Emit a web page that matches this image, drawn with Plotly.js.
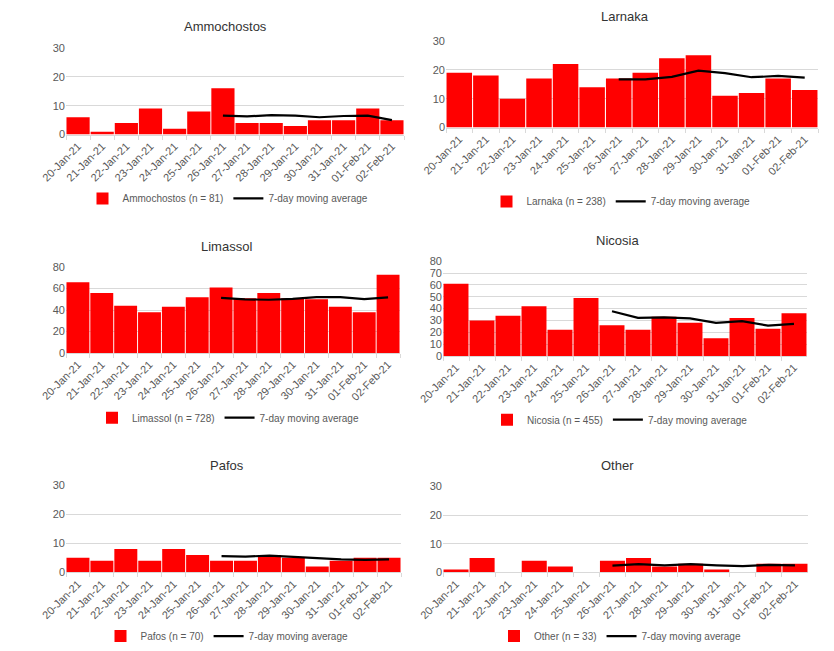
<!DOCTYPE html>
<html>
<head>
<meta charset="utf-8">
<script src="https://cdn.plot.ly/plotly-3.0.1.min.js"></script>
<style>html,body{margin:0;padding:0;background:#fff;}#chart{width:834px;height:651px;}</style>
</head>
<body>
<div id="chart"></div>
<script>
const dates = ["20-Jan-21","21-Jan-21","22-Jan-21","23-Jan-21","24-Jan-21","25-Jan-21","26-Jan-21","27-Jan-21","28-Jan-21","29-Jan-21","30-Jan-21","31-Jan-21","01-Feb-21","02-Feb-21"];
const maDates = ["26-Jan-21","27-Jan-21","28-Jan-21","29-Jan-21","30-Jan-21","31-Jan-21","01-Feb-21","02-Feb-21"];

const ammochostos = [6,1,4,9,2,8,16,4,4,3,5,5,9,5];
const ammochostosMA = [6.57,6.29,6.71,6.57,6.0,6.43,6.57,5.0];
const larnaka = [19,18,10,17,22,14,17,19,24,25,11,12,17,13];
const larnakaMA = [16.71,16.71,17.57,19.71,18.86,17.43,17.86,17.29];
const limassol = [66,56,44,38,43,52,61,51,56,51,50,43,38,73];
const limassolMA = [51.4,50.0,49.6,50.4,52.1,52.1,50.1,51.9];
const nicosia = [61,30,34,42,22,49,26,22,33,28,15,32,23,36];
const nicosiaMA = [37.7,32.1,32.6,31.7,27.9,29.3,25.6,27.0];
const pafos = [5,4,8,4,8,6,4,4,6,5,2,4,5,5];
const pafosMA = [5.57,5.43,5.71,5.29,5.0,4.43,4.29,4.43];
const other = [1,5,0,4,2,0,4,5,2,3,1,0,3,3];
const otherMA = [2.29,2.86,2.43,2.86,2.43,2.14,2.57,2.43];

const panels = [
  {title:"Ammochostos", name:"Ammochostos (n = 81)", y:ammochostos, ma:ammochostosMA, yr:[0,30], dt:10,
   xd:[66,404], yd:[48,135], tx:225, ty:27, lx:228, ly:199},
  {title:"Larnaka", name:"Larnaka (n = 238)", y:larnaka, ma:larnakaMA, yr:[0,30], dt:10,
   xd:[446,818], yd:[41,128], tx:625, ty:17, lx:621, ly:202},
  {title:"Limassol", name:"Limassol (n = 728)", y:limassol, ma:limassolMA, yr:[0,80], dt:20,
   xd:[66,400], yd:[268,354], tx:227, ty:247, lx:228, ly:419},
  {title:"Nicosia", name:"Nicosia (n = 455)", y:nicosia, ma:nicosiaMA, yr:[0,80], dt:10,
   xd:[443,807], yd:[262,357], tx:617, ty:241, lx:620, ly:421},
  {title:"Pafos", name:"Pafos (n = 70)", y:pafos, ma:pafosMA, yr:[0,30], dt:10,
   xd:[66,401], yd:[487,574], tx:227, ty:467, lx:227, ly:638},
  {title:"Other", name:"Other (n = 33)", y:other, ma:otherMA, yr:[0,30], dt:10,
   xd:[443,808], yd:[488,574], tx:617, ty:467, lx:620, ly:638}
];

const W = 834, H = 651;
const FONT = "Liberation Sans, Arial, sans-serif";
const GREY = "#595959";
const data = [];
const layout = {
  width: W, height: H,
  margin: {l:0, r:0, t:0, b:0},
  paper_bgcolor: "#ffffff", plot_bgcolor: "#ffffff",
  font: {family: FONT, color: GREY, size: 10},
  bargap: 0.04,
  hovermode: false,
  annotations: []
};

panels.forEach((p, i) => {
  const n = i + 1;
  const sx = n === 1 ? "" : String(n);
  const lg = n === 1 ? "legend" : "legend" + n;
  data.push({
    type: "bar", x: dates, y: p.y, name: p.name,
    marker: {color: "#ff0000"},
    xaxis: "x" + sx, yaxis: "y" + sx, legend: lg
  });
  data.push({
    type: "scatter", mode: "lines", x: maDates, y: p.ma, name: "7-day moving average",
    line: {color: "#000000", width: 2.2},
    xaxis: "x" + sx, yaxis: "y" + sx, legend: lg
  });
  layout["xaxis" + sx] = {
    domain: [p.xd[0] / W, p.xd[1] / W],
    anchor: "y" + sx,
    type: "category",
    tickangle: -45,
    tickfont: {size: 11, color: GREY},
    showline: true, linecolor: "#d9d9d9", linewidth: 1,
    ticks: "outside", tickson: "boundaries", ticklen: 4, tickcolor: "#d9d9d9",
    showgrid: false, zeroline: false, fixedrange: true
  };
  layout["yaxis" + sx] = {
    domain: [1 - p.yd[1] / H, 1 - p.yd[0] / H],
    anchor: "x" + sx,
    range: p.yr, dtick: p.dt, tick0: 0,
    tickfont: {size: 11, color: GREY},
    showgrid: true, gridcolor: "#d9d9d9", gridwidth: 1,
    zeroline: false, showline: false, ticks: "", fixedrange: true
  };
  layout[lg] = {
    orientation: "h",
    x: p.lx / W, y: 1 - p.ly / H,
    xanchor: "center", yanchor: "middle",
    font: {size: 10, color: GREY, family: FONT},
    bgcolor: "rgba(0,0,0,0)",
    itemwidth: 30, tracegroupgap: 0
  };
  layout.annotations.push({
    text: p.title, x: p.tx / W, y: 1 - p.ty / H,
    xref: "paper", yref: "paper", xanchor: "center", yanchor: "middle",
    showarrow: false, font: {size: 13, color: "#333333", family: FONT}
  });
});

Plotly.newPlot("chart", data, layout, {displayModeBar: false, staticPlot: true});
</script>
</body>
</html>
